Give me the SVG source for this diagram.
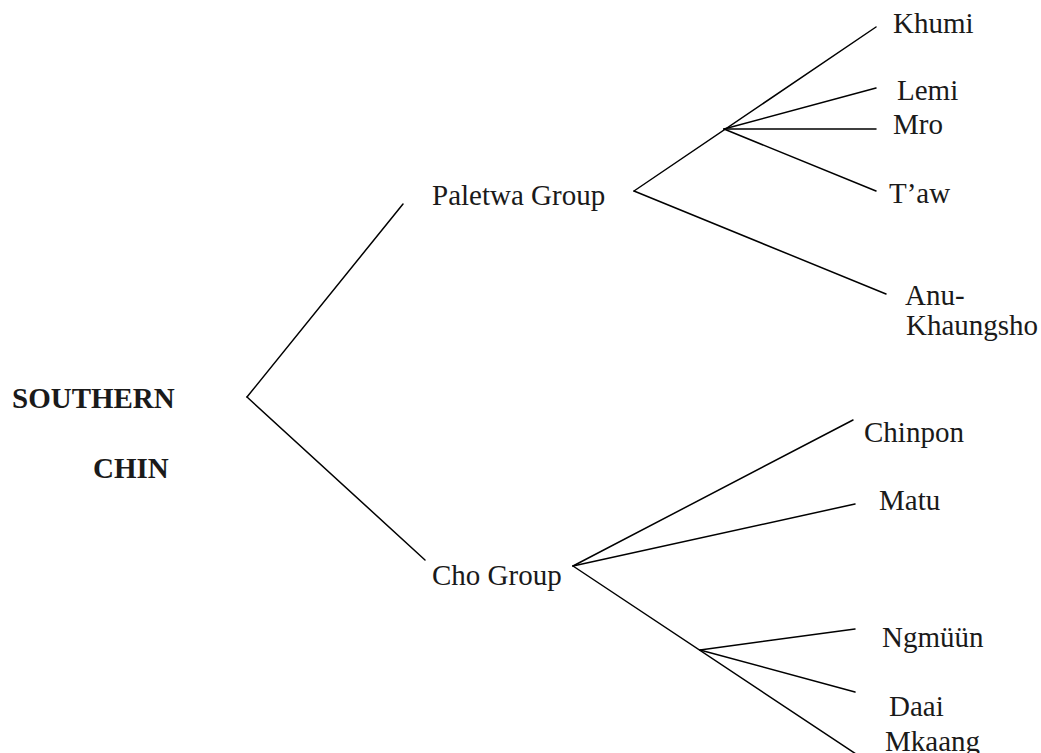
<svg xmlns="http://www.w3.org/2000/svg" width="1041" height="753" viewBox="0 0 1041 753">
  <style>
    .lbl { font-family: "Liberation Serif", "Times New Roman", serif; font-size: 29px; fill: #1a1a1a; }
    .root { font-weight: bold; }
    .edge { stroke: #000; stroke-width: 1.5; fill: none; stroke-linecap: round; }
  </style>
  <rect width="1041" height="753" fill="#fff"/>

  <!-- branches of the tree -->
  <g id="connectors">
    <!-- root split -->
    <line class="edge" x1="247" y1="397" x2="403" y2="204"/>
    <line class="edge" x1="247" y1="397" x2="425" y2="560"/>
    <!-- Paletwa Group -->
    <line class="edge" x1="634" y1="191" x2="876" y2="27"/>
    <line class="edge" x1="724" y1="129" x2="876" y2="88"/>
    <line class="edge" x1="724" y1="129" x2="876" y2="129"/>
    <line class="edge" x1="724" y1="129" x2="876" y2="191"/>
    <line class="edge" x1="634" y1="191" x2="886" y2="294"/>
    <!-- Cho Group -->
    <line class="edge" x1="573" y1="566" x2="853" y2="420"/>
    <line class="edge" x1="573" y1="566" x2="855" y2="504"/>
    <line class="edge" x1="573" y1="566" x2="856" y2="754"/>
    <line class="edge" x1="700" y1="650" x2="855" y2="629"/>
    <line class="edge" x1="700" y1="650" x2="855" y2="692"/>
  </g>

  <g id="southern-chin">
    <text class="lbl root" x="12" y="408">SOUTHERN</text>
    <text class="lbl root" x="93" y="478">CHIN</text>
  </g>
  <g id="paletwa-group"><text class="lbl" x="432" y="205">Paletwa Group</text></g>
  <g id="cho-group"><text class="lbl" x="432" y="585">Cho Group</text></g>

  <g id="khumi"><text class="lbl" x="893" y="33">Khumi</text></g>
  <g id="lemi"><text class="lbl" x="897" y="100">Lemi</text></g>
  <g id="mro"><text class="lbl" x="893" y="134">Mro</text></g>
  <g id="taw"><text class="lbl" x="889" y="203">T’aw</text></g>
  <g id="anu-khaungsho">
    <text class="lbl" x="905" y="305">Anu-</text>
    <text class="lbl" x="906" y="335">Khaungsho</text>
  </g>

  <g id="chinpon"><text class="lbl" x="864" y="442">Chinpon</text></g>
  <g id="matu"><text class="lbl" x="879" y="510">Matu</text></g>
  <g id="ngmuun"><text class="lbl" x="882" y="647">Ngmüün</text></g>
  <g id="daai-mkaang">
    <text class="lbl" x="889" y="716">Daai</text>
    <text class="lbl" x="885" y="751">Mkaang</text>
  </g>
</svg>
